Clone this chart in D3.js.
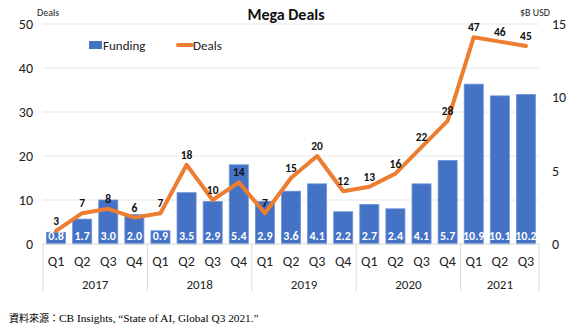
<!DOCTYPE html>
<html lang="en">
<head>
  <meta charset="UTF-8">
  <title>Mega Deals</title>
  <script src="https://cdn.jsdelivr.net/npm/d3@7"></script>
  <style>
    body { margin: 0; background: #fff; }
    text { font-family: Calibri, Carlito, "Open Sans", sans-serif; }
  </style>
</head>
<body>
<script>
  const quarters = ["Q1", "Q2", "Q3", "Q4", "Q1", "Q2", "Q3", "Q4", "Q1", "Q2", "Q3", "Q4", "Q1", "Q2", "Q3", "Q4", "Q1", "Q2", "Q3"];
  const years = ["2017", "2018", "2019", "2020", "2021"];
  const yearCounts = [4, 4, 4, 4, 3];
  const funding = [0.8, 1.7, 3.0, 2.0, 0.9, 3.5, 2.9, 5.4, 2.9, 3.6, 4.1, 2.2, 2.7, 2.4, 4.1, 5.7, 10.9, 10.1, 10.2];
  const deals = [3, 7, 8, 6, 7, 18, 10, 14, 7, 15, 20, 12, 13, 16, 22, 28, 47, 46, 45];
  const leftTicks = [0, 10, 20, 30, 40, 50];
  const rightTicks = [0, 5, 10, 15];

  const W = 580, H = 334;
  const mLeft = 43, mRight = 539, mTop = 24, mBottom = 244;

  const svg = d3.select("body").append("svg").attr("width", W).attr("height", H);

  const idx = d3.range(quarters.length);
  const x = d3.scaleBand().domain(idx).range([mLeft, mRight]).paddingInner(0.27).paddingOuter(0.135);
  const yL = d3.scaleLinear().domain([0, 50]).range([mBottom, mTop]);
  const yR = d3.scaleLinear().domain([0, 15]).range([mBottom, mTop]);

  // gridlines
  svg.selectAll(".grid").data(leftTicks.slice(1)).enter().append("line")
    .attr("x1", mLeft).attr("x2", mRight)
    .attr("y1", d => yL(d)).attr("y2", d => yL(d))
    .attr("stroke", "#e6e6e6").attr("stroke-width", 1);

  // left axis
  svg.append("g").attr("transform", `translate(${mLeft - 10},0)`)
    .call(d3.axisLeft(yL).tickValues(leftTicks).tickSize(0).tickPadding(0))
    .call(g => g.select(".domain").remove())
    .selectAll("text").attr("font-size", 14).attr("fill", "#222");

  // right axis
  svg.append("g").attr("transform", `translate(${mRight + 13},0)`)
    .call(d3.axisRight(yR).tickValues(rightTicks).tickSize(0).tickPadding(0))
    .call(g => g.select(".domain").remove())
    .selectAll("text").attr("font-size", 14).attr("fill", "#222");

  // bars
  svg.selectAll(".bar").data(funding).enter().append("rect")
    .attr("x", (d, i) => x(i)).attr("width", x.bandwidth())
    .attr("y", d => yR(d)).attr("height", d => mBottom - yR(d))
    .attr("fill", "#4472C4").attr("stroke", "#6f95d8").attr("stroke-width", 0.8);

  // funding labels
  svg.selectAll(".flab").data(funding).enter().append("text")
    .attr("x", (d, i) => x(i) + x.bandwidth() / 2).attr("y", mBottom - 4)
    .attr("text-anchor", "middle").attr("font-size", 12).attr("font-weight", "bold")
    .attr("fill", "#fff").text(d => d.toFixed(1));

  // x axis baseline
  svg.append("line").attr("x1", mLeft).attr("x2", mRight).attr("y1", mBottom).attr("y2", mBottom)
    .attr("stroke", "#d9d9d9");

  // category separators
  let acc = 0;
  const bounds = [0];
  yearCounts.forEach(c => { acc += c; bounds.push(acc); });
  const xb = i => mLeft + i * (mRight - mLeft) / quarters.length;
  svg.selectAll(".sep").data(bounds).enter().append("line")
    .attr("x1", d => xb(d)).attr("x2", d => xb(d))
    .attr("y1", mBottom).attr("y2", 291)
    .attr("stroke", "#d9d9d9");

  // quarter labels
  svg.selectAll(".qlab").data(quarters).enter().append("text")
    .attr("x", (d, i) => x(i) + x.bandwidth() / 2).attr("y", 266)
    .attr("text-anchor", "middle").attr("font-size", 14).attr("fill", "#222").text(d => d);

  // year labels
  svg.selectAll(".ylab").data(years).enter().append("text")
    .attr("x", (d, i) => (xb(bounds[i]) + xb(bounds[i + 1])) / 2).attr("y", 289)
    .attr("text-anchor", "middle").attr("font-size", 13).attr("fill", "#222").text(d => d);

  // deals line
  const line = d3.line().x((d, i) => x(i) + x.bandwidth() / 2).y(d => yL(d));
  svg.append("path").datum(deals).attr("d", line)
    .attr("fill", "none").attr("stroke", "#ED7D31").attr("stroke-width", 4)
    .attr("stroke-linejoin", "round").attr("stroke-linecap", "round");

  // deal labels
  svg.selectAll(".dlab").data(deals).enter().append("text")
    .attr("x", (d, i) => x(i) + x.bandwidth() / 2).attr("y", d => yL(d) - 6)
    .attr("text-anchor", "middle").attr("font-size", 11.5).attr("font-weight", "bold")
    .attr("fill", "#111").text(d => d);

  // title and axis titles
  svg.append("text").attr("x", 286).attr("y", 20).attr("text-anchor", "middle")
    .attr("font-size", 16).attr("font-weight", "bold").attr("fill", "#111").text("Mega Deals");
  svg.append("text").attr("x", 37).attr("y", 16).attr("font-size", 10).attr("fill", "#222").text("Deals");
  svg.append("text").attr("x", 520).attr("y", 16).attr("font-size", 10).attr("fill", "#222").text("$B USD");

  // legend
  svg.append("rect").attr("x", 89).attr("y", 41).attr("width", 13).attr("height", 8).attr("fill", "#4472C4");
  svg.append("text").attr("x", 103).attr("y", 50).attr("font-size", 13).attr("fill", "#222").text("Funding");
  svg.append("line").attr("x1", 178).attr("x2", 192).attr("y1", 45).attr("y2", 45)
    .attr("stroke", "#ED7D31").attr("stroke-width", 4).attr("stroke-linecap", "round");
  svg.append("text").attr("x", 193).attr("y", 50).attr("font-size", 13).attr("fill", "#222").text("Deals");

  // source
  const src = svg.append("text").attr("x", 9).attr("y", 322).attr("fill", "#000")
    .style("font-family", "'Liberation Serif', 'Times New Roman', 'Noto Sans CJK TC', serif");
  src.append("tspan").attr("font-size", 10).text("資料來源：");
  src.append("tspan").attr("font-size", 11.3).text("CB Insights, “State of AI, Global Q3 2021.”");
</script>
</body>
</html>
